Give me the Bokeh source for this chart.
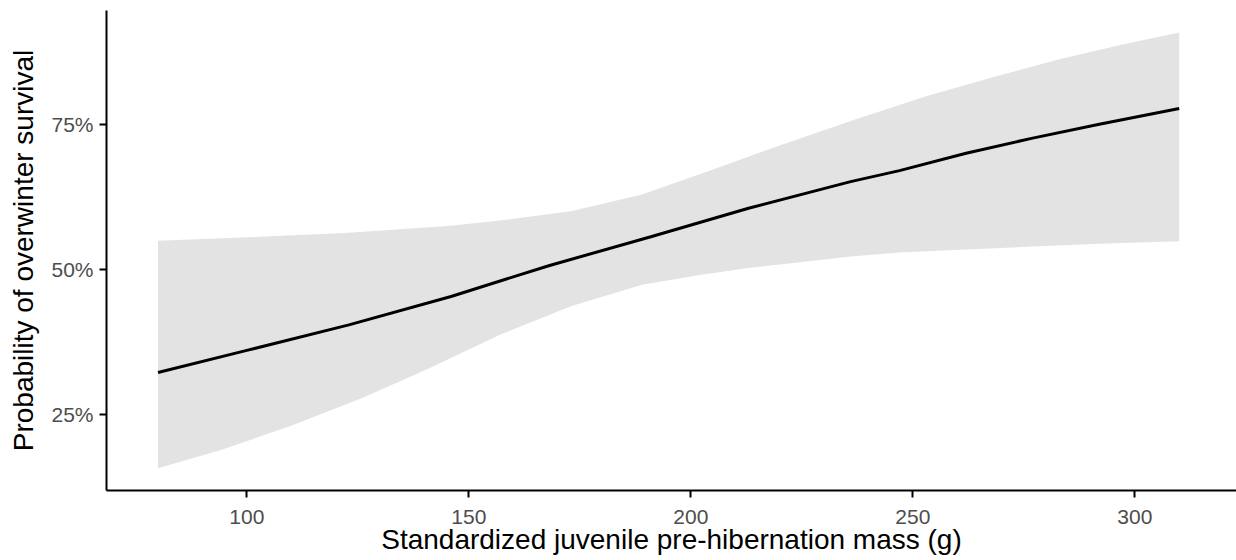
from bokeh.plotting import figure
from bokeh.models import Range1d, NumeralTickFormatter, FixedTicker
from bokeh.embed import file_html
from bokeh.resources import INLINE

# Data
fit_mass = [80, 100, 123, 146, 168, 191, 213, 236, 247, 262, 277, 292, 310]
fit = [0.322, 0.360, 0.404, 0.453, 0.506, 0.556, 0.605, 0.651, 0.670, 0.700, 0.726, 0.750, 0.777]

upper_mass = [80, 100, 123, 146, 157, 173, 189, 205, 221, 237, 253, 269, 283, 297, 310]
upper = [0.549, 0.555, 0.563, 0.575, 0.584, 0.600, 0.629, 0.672, 0.716, 0.758, 0.798, 0.833, 0.862, 0.887, 0.908]

lower_mass = [80, 94, 110, 126, 141, 157, 173, 189, 202, 213, 236, 247, 262, 277, 292, 310]
lower = [0.157, 0.188, 0.230, 0.278, 0.329, 0.387, 0.436, 0.473, 0.490, 0.502, 0.522, 0.529, 0.534, 0.539, 0.544, 0.548]

x_ticks = [100, 150, 200, 250, 300]
y_ticks = [0.25, 0.50, 0.75]

# Ribbon polygon: upper edge left-to-right, then lower edge right-to-left
band_x = upper_mass + lower_mass[::-1]
band_y = upper + lower[::-1]

p = figure(width=1236, height=560, output_backend="svg", toolbar_location=None,
           x_range=Range1d(68.4, 322.9), y_range=Range1d(0.1185, 0.946),
           min_border_left=106, min_border_right=0, min_border_top=10, min_border_bottom=70)
p.outline_line_color = None
p.grid.visible = False
p.background_fill_color = "white"

p.patch(x=band_x, y=band_y, fill_color="#E3E3E3", line_color=None)
p.line(x=fit_mass, y=fit, line_color="black", line_width=3)

p.xaxis.ticker = FixedTicker(ticks=x_ticks)
p.yaxis.ticker = FixedTicker(ticks=y_ticks)
p.yaxis.formatter = NumeralTickFormatter(format="0%")
p.xaxis.axis_label = "Standardized juvenile pre-hibernation mass (g)"
p.yaxis.axis_label = "Probability of overwinter survival"

for ax in (p.xaxis, p.yaxis):
    ax.axis_line_color = "black"
    ax.axis_line_width = 2
    ax.major_tick_line_color = "black"
    ax.major_tick_line_width = 2
    ax.major_tick_out = 7
    ax.major_tick_in = 0
    ax.minor_tick_line_color = None
    ax.major_label_text_font = "Liberation Sans"
    ax.major_label_text_font_size = "21px"
    ax.major_label_text_color = "#4D4D4D"
    ax.axis_label_text_font = "Liberation Sans"
    ax.axis_label_text_font_size = "28px"
    ax.axis_label_text_font_style = "normal"
    ax.axis_label_text_color = "black"

p.xaxis.major_label_standoff = 12
p.xaxis.axis_label_standoff = -3
p.yaxis.major_label_standoff = 6
p.yaxis.axis_label_standoff = 9

open("out.html", "w").write(file_html(p, INLINE))
